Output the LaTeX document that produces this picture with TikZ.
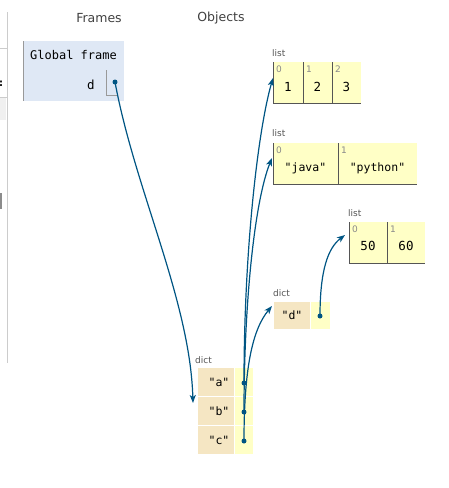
\documentclass[tikz,border=0pt]{standalone}
\usepackage{fontspec}
\setmainfont{DejaVu Sans}
\newfontfamily\mono{DejaVu Sans Mono}
\usetikzlibrary{arrows.meta}
\definecolor{framebg}{HTML}{DFE8F5}
\definecolor{listbg}{HTML}{FFFFC6}
\definecolor{keybg}{HTML}{F5E6C3}
\definecolor{arrowc}{HTML}{005583}
\definecolor{cellb}{HTML}{555555}
\definecolor{lblc}{HTML}{555555}
\definecolor{idxc}{HTML}{8A8A8A}
\definecolor{uigray}{HTML}{CCCCCC}
\tikzset{
  box/.style={anchor=north west,inner sep=0pt,outer sep=0pt,draw=none},
  lcell/.style={box,fill=listbg},
  kcell/.style={box,fill=keybg},
  vcell/.style={box,fill=listbg},
  border/.style={draw=cellb,line width=0.9pt},
  idx/.style={anchor=north west,inner sep=0pt,font=\fontsize{9}{9}\selectfont,text=idxc},
  val/.style={inner sep=0pt,font=\mono\fontsize{12.5}{13}\selectfont},
  sval/.style={inner sep=0pt,font=\mono\fontsize{11.5}{12}\selectfont},
  typ/.style={anchor=west,inner sep=0pt,font=\fontsize{9}{10}\selectfont,text=lblc},
  hdr/.style={inner sep=0pt,font=\fontsize{12.5}{13}\selectfont,text=black!75},
  dotc/.style={fill=arrowc,circle,inner sep=0pt,minimum size=5pt},
  ptr/.style={draw=arrowc,line width=1.2pt,-{Stealth[length=8pt,width=6pt,inset=2pt]}}
}
\begin{document}
\begin{tikzpicture}[x=1pt,y=-1pt]
\useasboundingbox (0,0) rectangle (448,488);
% UI artifacts at left
\draw[uigray,line width=1pt] (7,12) -- (7,363);
\draw[uigray,line width=0.8pt] (0,48) -- (7,48);
\draw[uigray,line width=0.8pt] (0,97) -- (7,97);
\fill[black!6] (0,98) rectangle (6,120);
\fill[black!45] (0,193) rectangle (2,209);
\node[inner sep=0pt,anchor=west,font=\bfseries\fontsize{10}{10}\selectfont] (colon) at (-1,84) {:};
% headers
\node[hdr] (hframes) at (99,18) {Frames};
\node[hdr] (hobjects) at (221,18) {Objects};
% global frame
\node[box,fill=framebg,minimum width=101pt,minimum height=60pt] (gf) at (23,41) {};
\draw[black!40,line width=1pt] (gf.north west) -- (gf.south west);
\node[sval,font=\mono\fontsize{12}{12}\selectfont] (gft) at (73.5,55) {Global frame};
\node[val] (dvar) at (91,85) {d};
\draw[black!40,line width=0.8pt] (106,70) -- (106,95) -- (117,95);
\node[dotc] (dptr) at (115,82) {};
% list 1
\node[typ] (l1t) at (272,53) {list};
\node[lcell,minimum width=30pt,minimum height=41pt] (l1a) at (273,62) {};
\node[lcell,minimum width=29pt,minimum height=41pt] (l1b) at (303,62) {};
\node[lcell,minimum width=29pt,minimum height=41pt] (l1c) at (332,62) {};
\foreach \c/\i/\v in {l1a/0/1,l1b/1/2,l1c/2/3}{
  \draw[border] (\c.north west) -- (\c.south west) -- (\c.south east);
  \node[idx] (\c i) at ([shift={(3,4)}]\c.north west) {\i};
  \node[val] (\c v) at ([yshift=-25pt]\c.north) {\v};
}
% list 2
\node[typ] (l2t) at (272,133) {list};
\node[lcell,minimum width=65pt,minimum height=41pt] (l2a) at (273,143) {};
\node[lcell,minimum width=79pt,minimum height=41pt] (l2b) at (338,143) {};
\draw[border] (l2a.north west) -- (l2a.south west) -- (l2a.south east);
\draw[border] (l2b.north west) -- (l2b.south west) -- (l2b.south east);
\node[idx] (l2ai) at ([shift={(3,4)}]l2a.north west) {0};
\node[idx] (l2bi) at ([shift={(3,4)}]l2b.north west) {1};
\node[sval] (l2av) at ([yshift=-25pt]l2a.north) {"java"};
\node[sval] (l2bv) at ([yshift=-25pt]l2b.north) {"python"};
% list 3
\node[typ] (l3t) at (348,213) {list};
\node[lcell,minimum width=38pt,minimum height=41pt] (l3a) at (349,222) {};
\node[lcell,minimum width=38pt,minimum height=41pt] (l3b) at (387,222) {};
\draw[border] (l3a.north west) -- (l3a.south west) -- (l3a.south east);
\draw[border] (l3b.north west) -- (l3b.south west) -- (l3b.south east);
\node[idx] (l3ai) at ([shift={(3,4)}]l3a.north west) {0};
\node[idx] (l3bi) at ([shift={(3,4)}]l3b.north west) {1};
\node[val] (l3av) at ([yshift=-24pt]l3a.north) {50};
\node[val] (l3bv) at ([yshift=-24pt]l3b.north) {60};
% dict d
\node[typ] (d2t) at (273,293) {dict};
\node[kcell,minimum width=36pt,minimum height=27pt] (d2k) at (274,302) {};
\node[vcell,minimum width=19pt,minimum height=27pt] (d2v) at (311,302) {};
\node[sval] (d2kt) at (292,315.5) {"d"};
\node[dotc] (d2p) at (320,316) {};
% main dict
\node[typ] (d1t) at (195,360) {dict};
\foreach \r/\k/\y in {a/a/368,b/b/397,c/c/426}{
  \node[kcell,minimum width=36pt,minimum height=28pt] (k\r) at (198,\y) {};
  \node[vcell,minimum width=18pt,minimum height=28pt] (v\r) at (235,\y) {};
  \node[sval] (k\r t) at ([xshift=3pt]k\r.center) {"\k"};
  \node[dotc] (p\r) at (244,\y+15) {};
}
% pointers
\coordinate (tl1) at (273,78);
\coordinate (tl2) at (272,158);
\coordinate (td2) at (272,306);
\coordinate (tl3) at (345,235);
\coordinate (tdict) at (193,403);
\draw[ptr] (dptr.center) .. controls (135,190) and (190,300) .. (tdict);
\draw[ptr] (pa.center) .. controls (244,250) and (258,130) .. (tl1);
\draw[ptr] (pb.center) .. controls (244,300) and (255,200) .. (tl2);
\draw[ptr] (pc.center) .. controls (244,370) and (252,330) .. (td2);
\draw[ptr] (d2p.center) .. controls (320,270) and (328,248) .. (tl3);
\end{tikzpicture}
\end{document}
